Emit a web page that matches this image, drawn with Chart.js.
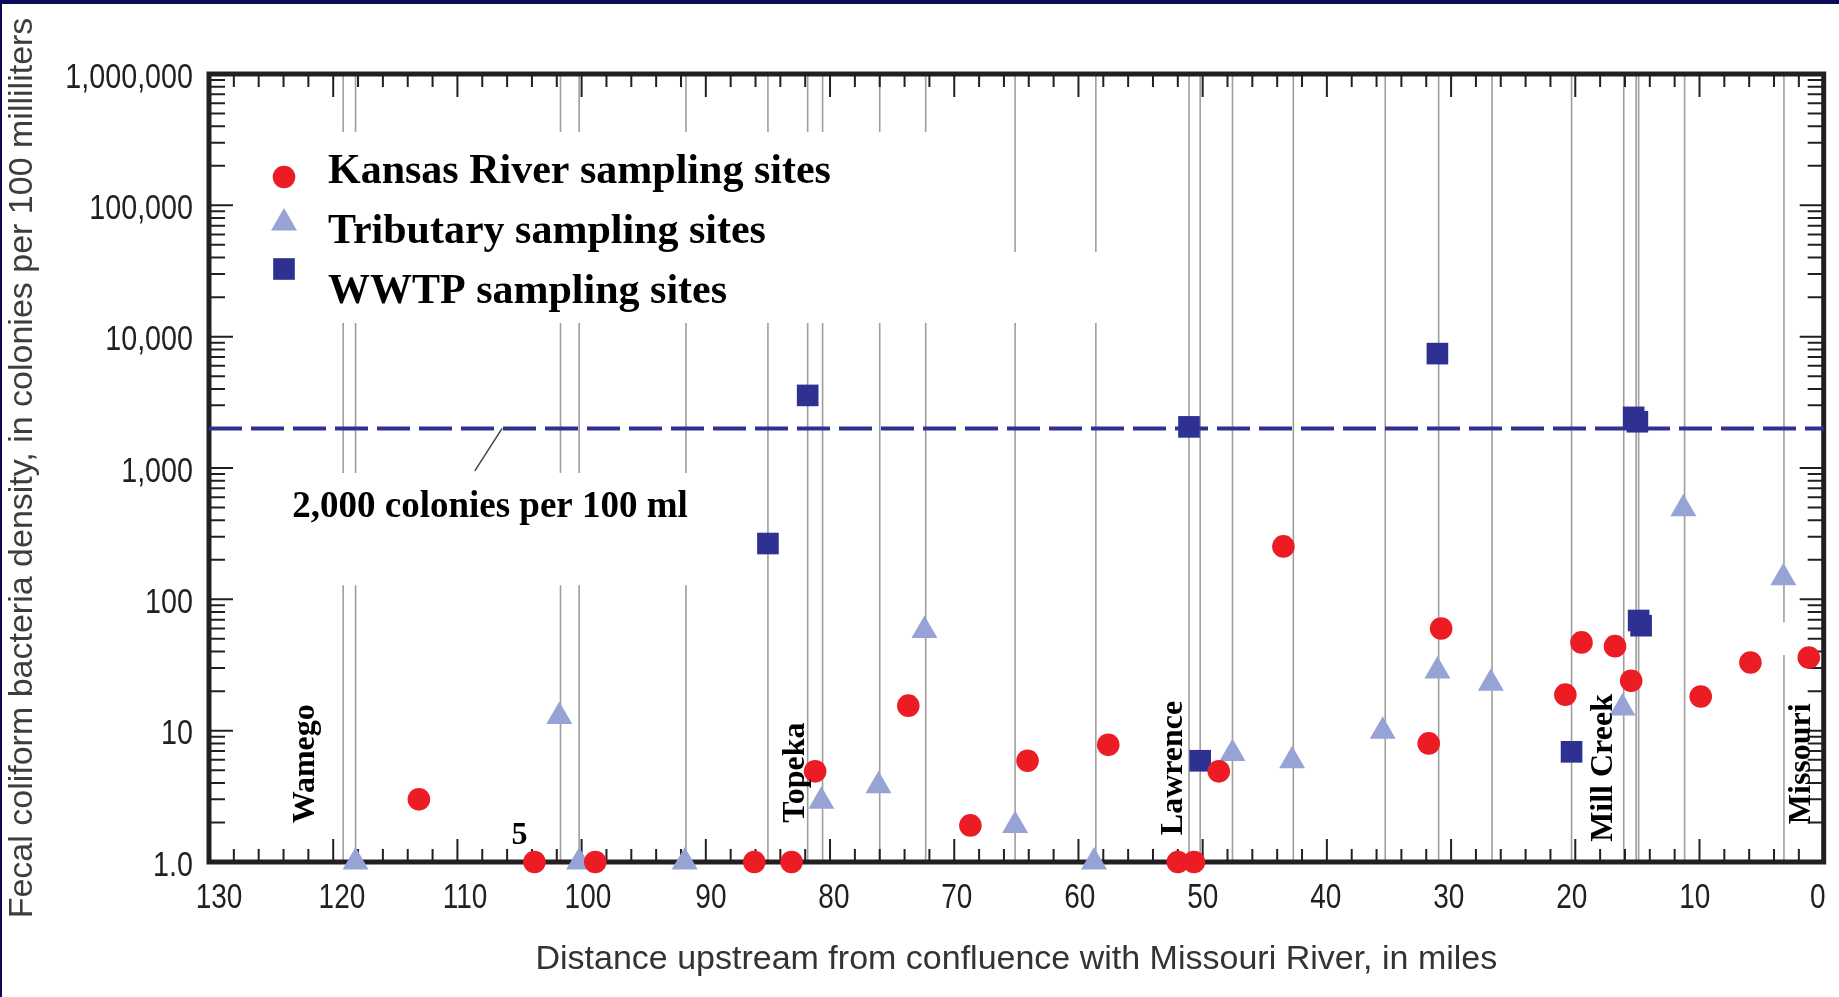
<!DOCTYPE html>
<html>
<head>
<meta charset="utf-8">
<title>Fecal coliform bacteria density, Kansas River</title>
<script src="https://cdn.jsdelivr.net/npm/chart.js@4.4.1/dist/chart.umd.min.js"></script>
<style>
  html, body { margin: 0; padding: 0; background: #fff; }
  #wrap { width: 1839px; height: 997px; }
  canvas { display: block; }
</style>
</head>
<body>
<div id="wrap"><canvas id="coliform-chart" width="1839" height="997"></canvas></div>
<script>
// --- Values (miles upstream, colonies per 100 mL) ---
const kansasMiles  = [113.1, 103.8, 98.9, 86.1, 83.1, 81.2, 73.7, 68.7, 64.1, 57.6, 52.0, 50.7, 48.7, 43.5, 30.8, 31.8, 20.8, 19.5, 16.8, 15.5, 9.9, 5.9, 1.2];
const kansasValues = [3.0, 1.0, 1.0, 1.0, 1.0, 4.9, 15.5, 1.9, 5.9, 7.8, 1.0, 1.0, 4.9, 253, 60, 8.0, 18.8, 47, 44, 24, 18.2, 33, 36];

const tribMiles  = [118.2, 101.8, 100.2, 91.7, 80.7, 76.1, 72.4, 65.1, 58.75, 47.6, 42.8, 35.5, 31.1, 26.8, 16.2, 11.3, 3.25];
const tribValues = [1.0, 12.8, 1.0, 1.0, 2.9, 3.8, 58, 1.9, 1.0, 6.7, 5.9, 9.9, 28.5, 23, 14.9, 489, 146];

// the two pairs near mile 15 are overlapping squares in the figure
const wwtpMiles  = [85.0, 81.8, 51.1, 50.2, 31.1, 20.3, 15.0, 15.3, 14.7, 14.9];
const wwtpValues = [266, 3570, 2056, 5.9, 7430, 6.9, 2250, 2430, 63, 69];

// sampling-site reference lines (miles)
const siteMiles = [119.2, 118.2, 101.7, 100.2, 91.6, 85.0, 81.8, 80.6, 76.0, 72.3, 65.1, 58.6, 51.1, 50.2, 47.6, 42.7, 35.3, 31.0, 26.7, 20.3, 16.1, 15.1, 14.9, 11.2, 3.2];

const thresholdValue = 2000;
const thresholdLabel = '2,000 colonies per 100 ml';
const leaderMiles  = [108.6, 106.4];
const leaderValues = [950, 2000];

const xTickValues = [130, 120, 110, 100, 90, 80, 70, 60, 50, 40, 30, 20, 10, 0];
const xTickLabels = ['130', '120', '110', '100', '90', '80', '70', '60', '50', '40', '30', '20', '10', '0'];
const yTickValues = [1, 10, 100, 1000, 10000, 100000, 1000000];
const yTickLabels = ['1.0', '10', '100', '1,000', '10,000', '100,000', '1,000,000'];

const placeLabels = ['Wamego', 'Topeka', 'Lawrence', 'Mill Creek', 'Missouri'];
const placeMiles  = [122.2, 82.8, 52.35, 17.7, 1.8];
const placeValues = [5.6, 4.8, 5.2, 5.2, 5.6];

const seriesLabels = ['Kansas River sampling sites', 'Tributary sampling sites', 'WWTP sampling sites'];
const xTitle = 'Distance upstream from confluence with Missouri River, in miles';
const yTitle = 'Fecal coliform bacteria density, in colonies per 100 milliliters';

// places where the site lines are broken in the figure (behind the text)
const lineGaps = [
    { fromMile: 130, toMile: 71.7, low: 12700, high: 362000 },
    { fromMile: 71.7, toMile: 57.7, low: 12700, high: 44100 },
    { fromMile: 130, toMile: 87.8, low: 128, high: 916 },
    { fromMile: 3.9, toMile: 2.5, low: 37.7, high: 67 }
];

// --- Styles ---
const RED = '#EC1C24';
const LILAC = '#97A3D5';
const NAVY = '#2E3192';
const INK = '#231F20';
const sansFamily = '"Liberation Sans", Arial, sans-serif';
const serifFamily = '"Liberation Serif", "Times New Roman", serif';

function toPoints(xs, ys) {
    return xs.map((x, i) => ({ x: x, y: ys[i] }));
}

// the figure uses a condensed face for the numbers, so squeeze the text sideways
function condensedText(ctx, text, px, py, align, squeeze) {
    ctx.save();
    ctx.translate(px, py);
    ctx.scale(squeeze, 1);
    ctx.textAlign = align;
    ctx.fillText(text, 0, 0);
    ctx.restore();
}

const figureDecor = {
    id: 'figureDecor',
    beforeDatasetsDraw(chart) {
        const { ctx, chartArea: a, scales: { x, y } } = chart;
        ctx.save();

        // thin grey lines at each sampling site
        ctx.strokeStyle = '#9e9e9e';
        ctx.lineWidth = 1.6;
        siteMiles.forEach(m => {
            const px = x.getPixelForValue(m);
            const gaps = lineGaps
                .filter(g => m <= g.fromMile && m >= g.toMile)
                .map(g => [y.getPixelForValue(g.high), y.getPixelForValue(g.low)])
                .sort((p, q) => p[0] - q[0]);
            let start = a.top;
            ctx.beginPath();
            gaps.forEach(([g0, g1]) => {
                if (g0 > start) { ctx.moveTo(px, start); ctx.lineTo(px, g0); }
                start = Math.max(start, g1);
            });
            ctx.moveTo(px, start);
            ctx.lineTo(px, a.bottom);
            ctx.stroke();
        });

        // heavy box round the plot
        ctx.strokeStyle = INK;
        ctx.lineWidth = 5;
        ctx.strokeRect(a.left, a.top, a.right - a.left, a.bottom - a.top);

        // inward ticks on all four sides
        ctx.lineWidth = 2;
        ctx.beginPath();
        for (let m = 0; m <= 130; m += 2) {
            const px = x.getPixelForValue(m);
            const len = m % 10 === 0 ? 23 : 13;
            ctx.moveTo(px, a.bottom); ctx.lineTo(px, a.bottom - len);
            ctx.moveTo(px, a.top); ctx.lineTo(px, a.top + len);
        }
        for (let d = 0; d <= 6; d++) {
            for (let k = 1; k <= (d === 6 ? 1 : 9); k++) {
                const py = y.getPixelForValue(k * Math.pow(10, d));
                const len = k === 1 ? 24 : 16;
                ctx.moveTo(a.left, py); ctx.lineTo(a.left + len, py);
                ctx.moveTo(a.right, py); ctx.lineTo(a.right - len, py);
            }
        }
        ctx.stroke();
        ctx.restore();
    },
    afterDatasetsDraw(chart) {
        const { ctx, chartArea: a, scales: { x, y } } = chart;
        ctx.save();
        ctx.fillStyle = '#000';

        // town / river names, turned on their side
        ctx.font = 'bold 32px ' + serifFamily;
        ctx.textAlign = 'center';
        ctx.textBaseline = 'middle';
        placeLabels.forEach((t, i) => {
            ctx.save();
            ctx.translate(x.getPixelForValue(placeMiles[i]), y.getPixelForValue(placeValues[i]));
            ctx.rotate(-Math.PI / 2);
            ctx.fillText(t, 0, 0);
            ctx.restore();
        });
        ctx.fillText('5', x.getPixelForValue(105.0), y.getPixelForValue(1.58));

        // threshold caption
        ctx.font = 'bold 37px ' + serifFamily;
        ctx.textAlign = 'left';
        ctx.fillText(thresholdLabel, x.getPixelForValue(123.3), y.getPixelForValue(500));

        // legend inside the plot, upper left
        const sets = chart.data.datasets.slice(0, 3);
        ctx.font = 'bold 42px ' + serifFamily;
        ctx.textBaseline = 'alphabetic';
        sets.forEach((ds, i) => {
            ctx.fillStyle = ds.backgroundColor;
            Chart.helpers.drawPoint(ctx, {
                pointStyle: ds.pointStyle, radius: ds.pointRadius, rotation: 0, borderWidth: 0
            }, a.left + 75, a.top + 103 + i * 46);
            ctx.fillStyle = '#000';
            ctx.fillText(ds.label, a.left + 119, a.top + 109 + i * 60);
        });

        // axis numbers
        ctx.fillStyle = INK;
        ctx.font = '35px ' + sansFamily;
        xTickValues.forEach((v, i) => {
            const shift = 10 - 16 * (130 - v) / 130;
            condensedText(ctx, xTickLabels[i], x.getPixelForValue(v) + shift, a.bottom + 46, 'center', 0.8);
        });
        yTickValues.forEach((v, i) => {
            condensedText(ctx, yTickLabels[i], a.left - 16, y.getPixelForValue(v) + 13.5, 'right', 0.82);
        });
        ctx.restore();
    },
    afterDraw(chart) {
        const { ctx, width, height } = chart;
        ctx.save();
        ctx.fillStyle = '#0B0B55';
        ctx.fillRect(0, 0, width, 4);
        ctx.fillRect(0, 0, 2, height);
        ctx.restore();
    }
};

const chartCtx = document.getElementById('coliform-chart').getContext('2d');
const coliformChart = new Chart(chartCtx, {
    type: 'scatter',
    data: {
        datasets: [
            {
                label: seriesLabels[0],
                data: toPoints(kansasMiles, kansasValues),
                pointStyle: 'circle', pointRadius: 11.3,
                backgroundColor: RED, borderColor: RED, borderWidth: 0,
                clip: false, order: 0
            },
            {
                label: seriesLabels[1],
                data: toPoints(tribMiles, tribValues),
                pointStyle: 'triangle', pointRadius: 15,
                backgroundColor: LILAC, borderColor: LILAC, borderWidth: 0,
                clip: false, order: 1
            },
            {
                label: seriesLabels[2],
                data: toPoints(wwtpMiles, wwtpValues),
                pointStyle: 'rect', pointRadius: 15.3,
                backgroundColor: NAVY, borderColor: NAVY, borderWidth: 0,
                clip: false, order: 2
            },
            {
                type: 'line',
                label: thresholdLabel,
                data: [{ x: 130, y: thresholdValue }, { x: 0, y: thresholdValue }],
                borderColor: NAVY, borderWidth: 4, borderDash: [33, 9],
                pointRadius: 0, fill: false, clip: false, order: 3
            },
            {
                type: 'line',
                label: 'leader',
                data: toPoints(leaderMiles, leaderValues),
                borderColor: '#444', borderWidth: 1.5,
                pointRadius: 0, fill: false, clip: false, order: 4
            }
        ]
    },
    options: {
        responsive: false,
        animation: false,
        events: [],
        layout: { padding: { top: 74, right: 10, left: 0, bottom: 0 } },
        plugins: {
            legend: { display: false },
            tooltip: { enabled: false }
        },
        scales: {
            x: {
                type: 'linear',
                reverse: true,
                min: 0,
                max: 130,
                grid: { display: false },
                border: { display: false },
                afterBuildTicks(scale) {
                    scale.ticks = xTickValues.map(v => ({ value: v }));
                },
                ticks: { display: false },
                title: {
                    display: true, text: xTitle, color: '#333',
                    font: { family: sansFamily, size: 34 },
                    padding: { top: 0, bottom: 17 }
                },
                afterFit(scale) { scale.height = 135; }
            },
            y: {
                type: 'logarithmic',
                min: 1,
                max: 1000000,
                grid: { display: false },
                border: { display: false },
                afterBuildTicks(scale) {
                    scale.ticks = yTickValues.map(v => ({ value: v, major: true }));
                },
                ticks: { display: false },
                title: {
                    display: true, text: yTitle, color: '#3d3d3d',
                    font: { family: sansFamily, size: 34 },
                    padding: { top: 2, bottom: 0 }
                },
                afterFit(scale) { scale.width = 209; }
            }
        }
    },
    plugins: [figureDecor]
});
</script>
</body>
</html>
